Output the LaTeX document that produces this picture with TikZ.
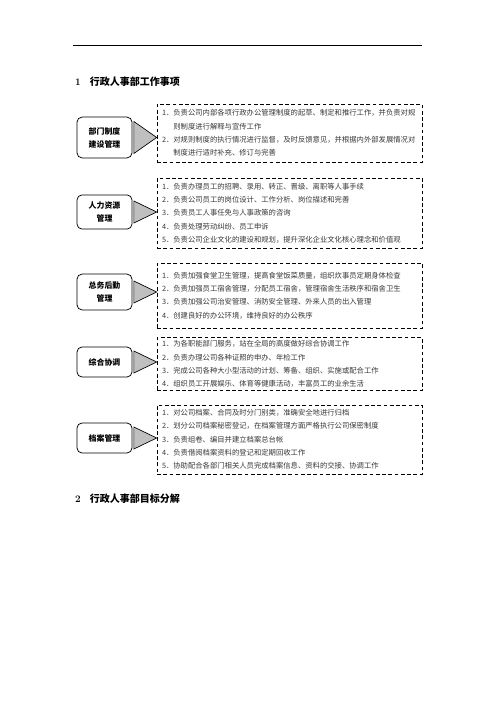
\documentclass[tikz,border=0pt]{standalone}
\usepackage{fontspec}
\newfontfamily\cjk{Noto Sans CJK SC}
\begin{document}
\begin{tikzpicture}[x=1.2pt, y=-1.2pt,
		namebox/.style={draw, line width=0.9pt, rounded corners=6pt, minimum width=66pt, inner sep=2pt, align=center, font=\cjk\bfseries\fontsize{9.5}{15.6}\selectfont},
		itembox/.style={draw, line width=0.8pt, dash pattern=on 4.5pt off 3pt, text width=306pt, inner xsep=6pt, align=left, text=black!78, font=\cjk\fontsize{8.8}{16}\selectfont},
		pointer/.style={draw, line width=0.8pt, fill=black!25},
		heading/.style={anchor=west, inner sep=0pt, font=\fontsize{12}{14}\selectfont\bfseries}]
	\useasboundingbox[fill=white] (0,0) rectangle (496,702);
	\draw[line width=0.8pt] (73,45) -- (422,45);
	\node[heading] (H1) at (75,82) {1\hspace{11pt}{\cjk 行政人事部工作事项}};
	% boxes on the left
	\node[namebox, minimum height=49pt] (N1) at (104.5,137.5) {部门制度\\建设管理};
	\node[namebox, minimum height=41pt] (N2) at (104.5,212) {人力资源\\管理};
	\node[namebox, minimum height=43pt] (N3) at (104.5,292) {总务后勤\\管理};
	\node[namebox, minimum height=36pt] (N4) at (104.5,362) {综合协调};
	\node[namebox, minimum height=36pt] (N5) at (104.5,438) {档案管理};
	% duties
	\node[itembox, minimum height=69.6pt] (D1) at (289.5,133) {1．负责公司内部各项行政办公管理制度的起草、制定和推行工作，并负责对规\\\hphantom{1．}则制度进行解释与宣传工作\\2．对规则制度的执行情况进行监督，及时反馈意见，并根据内外部发展情况对\\\hphantom{2．}制度进行适时补充、修订与完善};
	\node[itembox, minimum height=84pt] (D2) at (289.5,213) {1．负责办理员工的招聘、录用、转正、晋级、离职等人事手续\\2．负责公司员工的岗位设计、工作分析、岗位描述和完善\\3．负责员工人事任免与人事政策的咨询\\4．负责处理劳动纠纷、员工申诉\\5．负责公司企业文化的建设和规划，提升深化企业文化核心理念和价值观};
	\node[itembox, minimum height=78pt] (D3) at (289.5,295.5) {1．负责加强食堂卫生管理，提高食堂饭菜质量，组织炊事员定期身体检查\\2．负责加强员工宿舍管理，分配员工宿舍，管理宿舍生活秩序和宿舍卫生\\3．负责加强公司治安管理、消防安全管理、外来人员的出入管理\\4．创建良好的办公环境，维持良好的办公秩序};
	\node[itembox, minimum height=60pt] (D4) at (289.5,364) {1．为各职能部门服务，站在全局的高度做好综合协调工作\\2．负责办理公司各种证照的申办、年检工作\\3．完成公司各种大小型活动的计划、筹备、组织、实施或配合工作\\4．组织员工开展娱乐、体育等健康活动，丰富员工的业余生活};
	\node[itembox, minimum height=82.8pt] (D5) at (289.5,439.5) {1．对公司档案、合同及时分门别类，准确安全地进行归档\\2．划分公司档案秘密登记，在档案管理方面严格执行公司保密制度\\3．负责组卷、编目并建立档案总台帐\\4．负责借阅档案资料的登记和定期回收工作\\5．协助配合各部门相关人员完成档案信息、资料的交接、协调工作};
	\draw[pointer] (D1.west |- N1.east) -- ([shift={(1.5,-16)}]N1.east) -- ([shift={(1.5,16)}]N1.east) -- cycle;
	\draw[pointer] (D2.west |- N2.east) -- ([shift={(1.5,-11)}]N2.east) -- ([shift={(1.5,11)}]N2.east) -- cycle;
	\draw[pointer] (D3.west |- N3.east) -- ([shift={(1.5,-11)}]N3.east) -- ([shift={(1.5,11)}]N3.east) -- cycle;
	\draw[pointer] (D4.west |- N4.east) -- ([shift={(1.5,-11)}]N4.east) -- ([shift={(1.5,11)}]N4.east) -- cycle;
	\draw[pointer] (D5.west |- N5.east) -- ([shift={(1.5,-11)}]N5.east) -- ([shift={(1.5,11)}]N5.east) -- cycle;
	\node[heading] (H2) at (75,499) {2\hspace{11pt}{\cjk 行政人事部目标分解}};
\end{tikzpicture}
\end{document}
